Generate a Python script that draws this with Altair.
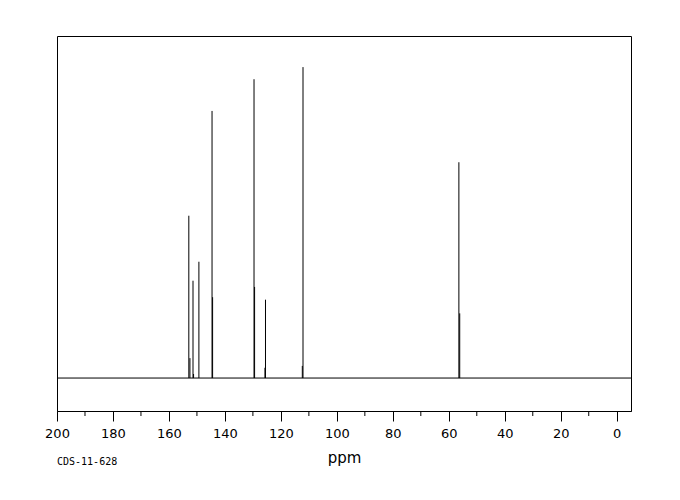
import altair as alt
import pandas as pd

# Peak positions (ppm) and intensities (tallest = 100)
peak_ppm = [152.9, 152.5, 151.4, 151.2, 149.3, 144.6, 144.4, 129.6, 129.4,
            125.7, 125.5, 112.1, 112.35, 56.4, 56.1]
peak_int = [52.2, 6.4, 31.3, 1.3, 37.4, 85.9, 26.0, 96.1, 29.3,
            3.3, 25.2, 100.0, 3.9, 69.4, 20.8]

major_ticks = list(range(0, 201, 20))
minor_ticks = list(range(10, 200, 20))
x_domain = [-5.1, 200]
y_domain = [-10.6, 110]
code_label = ["CDS-11-628"]

W, H = 574, 375

peaks = pd.DataFrame({"ppm": peak_ppm, "zero": [0] * len(peak_ppm), "inten": peak_int})
base = pd.DataFrame({"x": [x_domain[1]], "x2": [x_domain[0]], "y": [0]})
minor_df = pd.DataFrame({"m": minor_ticks})
label_df = pd.DataFrame({"t": code_label})

xscale = alt.Scale(domain=x_domain, reverse=True, nice=False, zero=False)
yscale = alt.Scale(domain=y_domain, nice=False, zero=False)

xaxis = alt.Axis(
    title="ppm",
    values=major_ticks,
    tickSize=10,
    tickColor="black",
    domainColor="black",
    labelColor="black",
    labelFont="DejaVu Sans",
    labelFontSize=13,
    labelPadding=6,
    labelFlush=False,
    labelOverlap=False,
    grid=False,
    titleFont="DejaVu Sans",
    titleFontSize=15,
    titleFontWeight="normal",
    titleColor="black",
    titlePadding=10,
)

baseline = alt.Chart(base).mark_rule(color="black", strokeWidth=1).encode(
    x=alt.X("x:Q", scale=xscale, axis=xaxis),
    x2="x2:Q",
    y=alt.Y("y:Q", scale=yscale, axis=None),
)

minor = alt.Chart(minor_df).mark_rule(color="black", strokeWidth=1).encode(
    x=alt.X("m:Q", scale=xscale),
    y=alt.value(H),
    y2=alt.value(H + 5),
)

lines = alt.Chart(peaks).mark_rule(color="black", strokeWidth=1).encode(
    x=alt.X("ppm:Q", scale=xscale),
    y=alt.Y("zero:Q", scale=yscale),
    y2="inten:Q",
)

code = alt.Chart(label_df).mark_text(
    align="left", baseline="alphabetic", font="DejaVu Sans Mono", fontSize=10, color="black"
).encode(
    x=alt.value(0),
    y=alt.value(H + 54),
    text="t:N",
)

chart = alt.layer(baseline, minor, lines, code).properties(
    width=W, height=H,
    background="white",
    autosize=alt.AutoSizeParams(type="none"),
    padding={"left": 49, "top": 28, "right": 40, "bottom": 80},
).configure_view(stroke="black", strokeWidth=1)

chart.save("out.html", embed_options={"renderer": "svg", "actions": False})
